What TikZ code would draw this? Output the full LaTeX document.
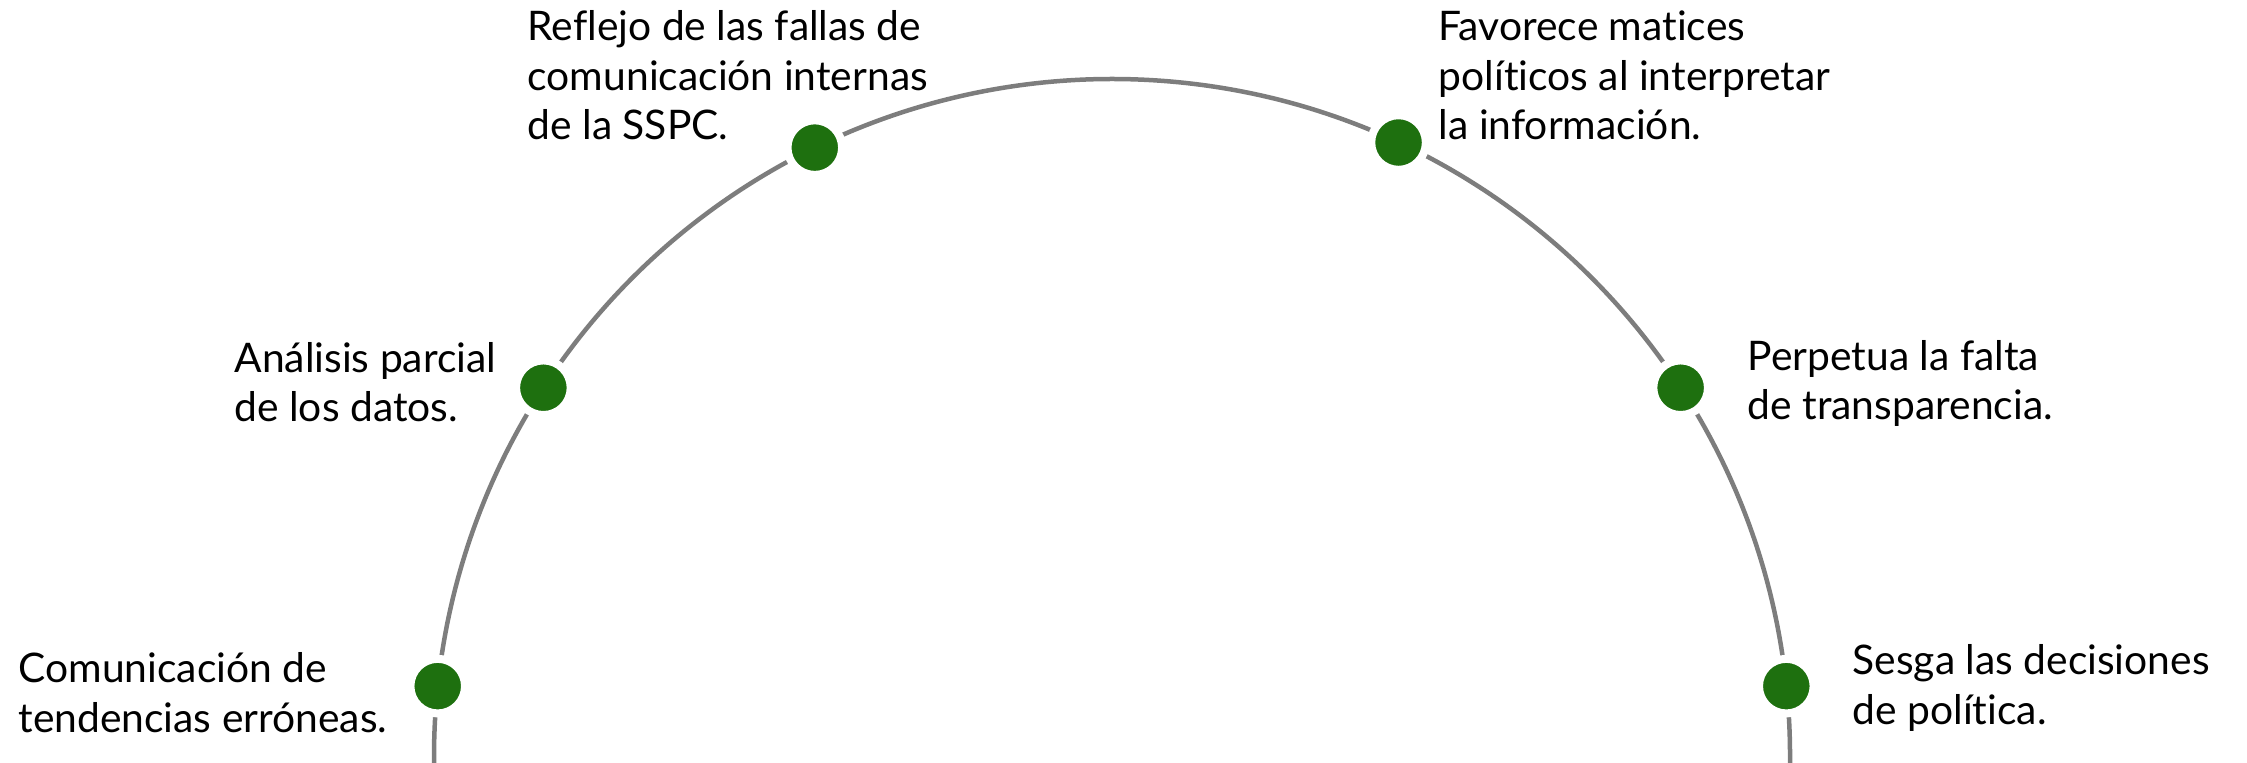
\documentclass[tikz,border=0pt]{standalone}
\usepackage{fontspec}
\setmainfont{Lato}[Ligatures={NoCommon}]
\usepackage{tikz}
\usetikzlibrary{calc}
\definecolor{arcgray}{RGB}{125,125,125}
\definecolor{dotgreen}{RGB}{30,112,15}

\begin{document}
\fontsize{11.6pt}{14.2pt}\selectfont
\begin{tikzpicture}[
    arcline/.style={line width=0.045cm,arcgray},
    dot/.style={circle,fill=dotgreen,draw=white,line width=0.08cm,inner sep=0pt,minimum size=0.546cm},
    txt/.style={align=left,inner sep=0pt,font=\fontsize{11.6pt}{14.2pt}\selectfont}
]
    \useasboundingbox (0,0) rectangle (22.47,7.62);
    \coordinate (c) at (11.12,0.05);

    % Arc
    \draw[arcline] (c) ++(-2:6.78) arc[start angle=-2,end angle=182,radius=6.78];

    % Dots
    \node[dot] (d1) at ($(c)+(174:6.78)$) {};
    \node[dot] (d2) at ($(c)+(147:6.78)$) {};
    \node[dot] (d3) at ($(c)+(116:6.78)$) {};
    \node[dot] (d4) at ($(c)+(65:6.78)$) {};
    \node[dot] (d5) at ($(c)+(33:6.78)$) {};
    \node[dot] (d6) at ($(c)+(6:6.78)$) {};

    % Labels
    \node[txt,anchor=base east] (t1) at (3.88,0.30) {Comunicación de\\tendencias erróneas.};
    \node[txt,anchor=base east] (t2) at (4.97,3.40) {Análisis parcial\\de los datos.};
    \node[txt,anchor=base west] (t3) at (5.27,6.22) {Reflejo de las fallas de\\comunicación internas\\de la SSPC.};
    \node[txt,anchor=base west] (t4) at (14.38,6.22) {Favorece matices\\políticos al interpretar\\la información.};
    \node[txt,anchor=base west] (t5) at (17.47,3.42) {Perpetua la falta\\de transparencia.};
    \node[txt,anchor=base west] (t6) at (18.52,0.38) {Sesga las decisiones\\de política.};
\end{tikzpicture}
\end{document}
